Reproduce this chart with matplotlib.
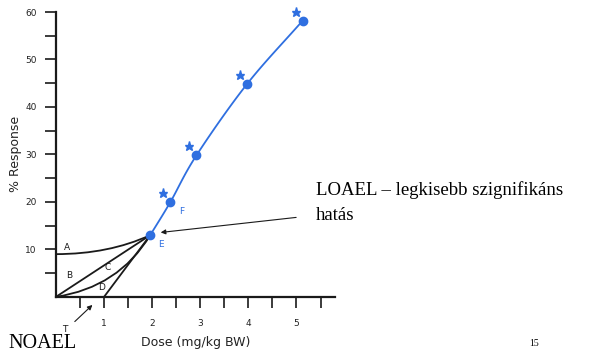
import numpy as np
import matplotlib.pyplot as plt
from matplotlib.path import Path
import matplotlib.patches as mpatches
import matplotlib.transforms as mtrans

# dose-response points (mg/kg BW, % response)
dose = [1.96, 2.38, 2.92, 3.97, 5.13]
resp = [13.0, 20.0, 29.8, 44.8, 58.2]
labels_pts = ['E', 'F', '', '', '']
starred = [False, True, True, True, True]

# low-dose extrapolation curves A-D, all ending at E
a_start = (0.0, 9.0)
b_start = (0.0, 0.0)
c_start = (0.0, 0.0)
d_start = (1.0, 0.0)

blue = '#2f6fe0'
ink = '#1a1a1a'


def smooth(xs, ys, n=30):
    # catmull-rom through the points, only for drawing the line
    px = [2 * xs[0] - xs[1]] + list(xs) + [2 * xs[-1] - xs[-2]]
    py = [2 * ys[0] - ys[1]] + list(ys) + [2 * ys[-1] - ys[-2]]
    outx, outy = [], []
    for i in range(1, len(px) - 2):
        t = np.linspace(0, 1, n)
        for p, out in ((px, outx), (py, outy)):
            p0, p1, p2, p3 = p[i - 1], p[i], p[i + 1], p[i + 2]
            out.extend(0.5 * (2 * p1 + (-p0 + p2) * t
                              + (2 * p0 - 5 * p1 + 4 * p2 - p3) * t ** 2
                              + (-p0 + 3 * p1 - 3 * p2 + p3) * t ** 3))
    return outx, outy


fig = plt.figure(figsize=(5.95, 3.53), dpi=100)
ax = fig.add_axes([0.094, 0.159, 0.469, 0.807])
ax.set_xlim(0, 5.8)
ax.set_ylim(0, 60)

for s in ['top', 'right']:
    ax.spines[s].set_visible(False)
for s in ['left', 'bottom']:
    ax.spines[s].set_linewidth(1.6)
    ax.spines[s].set_color(ink)

ax.set_xticks(np.arange(0.5, 5.51, 0.5))
ax.set_xticklabels(['' if v % 1 else str(int(v)) for v in np.arange(0.5, 5.51, 0.5)])
ax.set_yticks(np.arange(5, 61, 5))
ax.set_yticklabels(['' if v % 10 else str(int(v)) for v in np.arange(5, 61, 5)])
ax.tick_params(axis='both', length=8, width=1.2, color=ink, labelsize=6.5,
               labelcolor='#222222')
ax.tick_params(axis='x', pad=8)
ax.tick_params(axis='y', pad=6)

ax.set_xlabel('Dose (mg/kg BW)', fontsize=9, labelpad=6, color='#222222')
ax.set_ylabel('% Response', fontsize=9, labelpad=2, color='#222222')

# blue dose-response curve
sx, sy = smooth(dose, resp)
ax.plot(sx, sy, color=blue, lw=1.3, zorder=3)
ax.plot(dose, resp, 'o', color=blue, ms=6, zorder=4, clip_on=False)
star_tr = mtrans.offset_copy(ax.transData, fig=fig, x=-7, y=9, units='dots')
sdx = [x for x, st in zip(dose, starred) if st]
sdy = [y for y, st in zip(resp, starred) if st]
ax.plot(sdx, sdy, '*', color=blue, ms=6.5, transform=star_tr, zorder=4,
        clip_on=False)
for x, y, lab in zip(dose, resp, labels_pts):
    if lab:
        ax.annotate(lab, (x, y), xytext=(8, -7), textcoords='offset points',
                    color=blue, fontsize=6.5, ha='center', va='center')

ex, ey = dose[0], resp[0]
# A and C are curved, B and D straight
for start, ctrl in ((a_start, (1.1, 9.0)), (c_start, (1.3, 2.0))):
    path = Path([start, ctrl, (ex, ey)], [Path.MOVETO, Path.CURVE3, Path.CURVE3])
    ax.add_patch(mpatches.PathPatch(path, fill=False, ec=ink, lw=1.3, zorder=2))
for start in (b_start, d_start):
    ax.plot([start[0], ex], [start[1], ey], color=ink, lw=1.3, zorder=2)

for lab, x, y in (('A', 0.22, 10.5), ('B', 0.27, 4.5), ('C', 1.07, 6.1),
                  ('D', 0.95, 2.0)):
    ax.text(x, y, lab, fontsize=6.5, ha='center', va='center', color=ink)

# T / NOAEL arrow below the axis
ax.annotate('', xy=(0.8, -1.3), xytext=(0.35, -5.6),
            arrowprops=dict(arrowstyle='-|>', color=ink, lw=0.8,
                            mutation_scale=7), annotation_clip=False)
ax.text(0.19, -6.8, 'T', fontsize=6.5, ha='center', va='center', color=ink,
        clip_on=False)

# LOAEL arrow
ax.annotate('', xy=(2.12, 13.5), xytext=(5.05, 16.8),
            arrowprops=dict(arrowstyle='-|>', color=ink, lw=0.8,
                            mutation_scale=7), annotation_clip=False)

fig.text(316 / 595, 1 - 190 / 353, 'LOAEL \u2013 legkisebb szignifikáns',
         family='Liberation Serif', fontsize=13.5, va='center', ha='left')
fig.text(316 / 595, 1 - 215 / 353, 'hatás',
         family='Liberation Serif', fontsize=13.5, va='center', ha='left')
fig.text(8 / 595, 1 - 343 / 353, 'NOAEL', family='Liberation Serif',
         fontsize=14.5, va='center', ha='left')
fig.text(534 / 595, 1 - 344 / 353, '15', family='Liberation Serif',
         fontsize=7, va='center', ha='center')

fig.savefig('out.png', dpi=100)
